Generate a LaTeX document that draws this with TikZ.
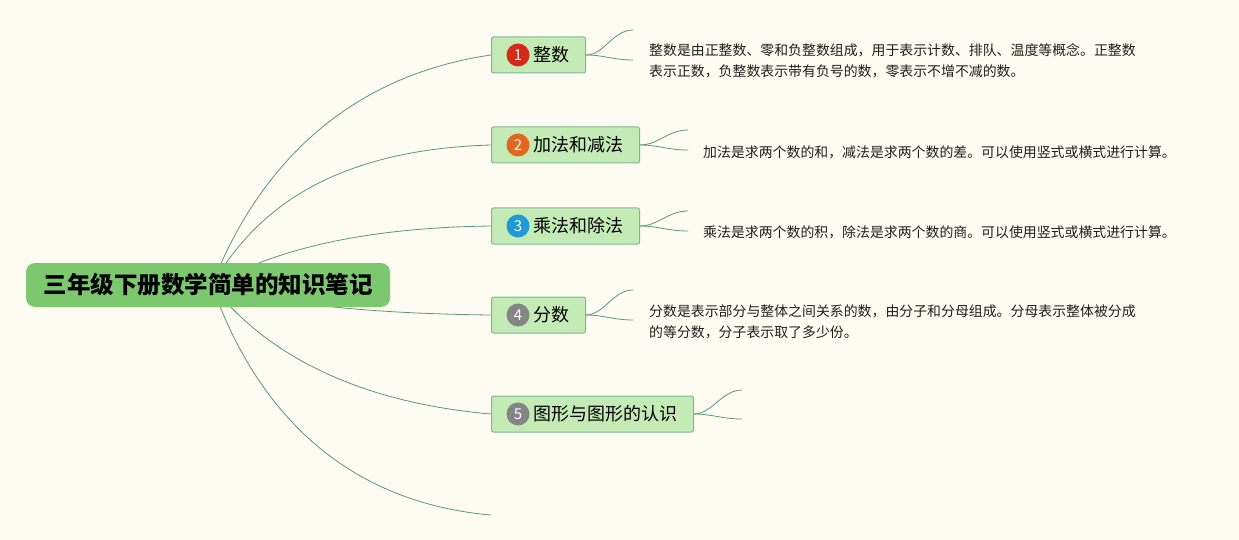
\documentclass[tikz,border=0pt]{standalone}
\usepackage{fontspec}
\setmainfont{Noto Sans CJK SC}
\definecolor{bgc}{HTML}{FEFCF2}
\definecolor{rootg}{HTML}{7CC86E}
\definecolor{topicf}{HTML}{C4EAB6}
\definecolor{topicb}{HTML}{7DB890}
\definecolor{linkc}{HTML}{5A967D}
\definecolor{numred}{HTML}{D62A18}
\definecolor{numorange}{HTML}{E2661E}
\definecolor{numblue}{HTML}{1E9AD8}
\definecolor{numgray}{HTML}{858585}
\definecolor{notec}{HTML}{1E1E1E}
\begin{document}
\begin{tikzpicture}[x=1pt,y=-1pt,
  rootbox/.style={fill=rootg, rounded corners=9pt, minimum width=364pt, minimum height=44pt, inner sep=0pt, font=\fontsize{23.5}{28}\selectfont\bfseries},
  topic/.style={draw=topicb, fill=topicf, line width=1pt, rounded corners=2pt, minimum height=36pt, inner xsep=16pt, inner ysep=0pt, anchor=west, font=\fontsize{18}{22}\selectfont},
  numc/.style={circle, minimum size=23pt, inner sep=0pt, text=white, font=\fontsize{15}{15}\selectfont},
  link/.style={draw=linkc, line width=0.8pt},
  sublink/.style={draw=linkc, line width=0.8pt},
  note/.style={anchor=base west, align=left, inner sep=0pt, text=notec, font=\fontsize{13.9}{21}\selectfont}
]
\useasboundingbox (0,0) rectangle (1239,540);
\fill[bgc] (0,0) rectangle (1239,540);

\coordinate (hub) at (212,285);
\coordinate (free) at (491,515);

% topic nodes
\node[topic] (n1) at (491,55) {\hspace{26pt}整数};
\node[topic] (n2) at (491,145) {\hspace{26pt}加法和减法};
\node[topic] (n3) at (491,226) {\hspace{26pt}乘法和除法};
\node[topic] (n4) at (491,315) {\hspace{26pt}分数};
\node[topic] (n5) at (491,414) {\hspace{26pt}图形与图形的认识};

\node[numc, fill=numred] (c1) at ([xshift=27pt]n1.west) {1};
\node[numc, fill=numorange] (c2) at ([xshift=27pt]n2.west) {2};
\node[numc, fill=numblue] (c3) at ([xshift=27pt]n3.west) {3};
\node[numc, fill=numgray] (c4) at ([xshift=27pt]n4.west) {4};
\node[numc, fill=numgray] (c5) at ([xshift=27pt]n5.west) {5};

% main connectors
\draw[link] (hub) .. controls (245,200) and (320,80) .. (n1.west);
\draw[link] (hub) .. controls (250,220) and (320,150) .. (n2.west);
\draw[link] (hub) .. controls (260,258) and (340,228) .. (n3.west);
\draw[link] (hub) .. controls (290,308) and (400,314) .. (n4.west);
\draw[link] (hub) .. controls (250,335) and (330,400) .. (n5.west);
\draw[link] (hub) .. controls (245,380) and (320,500) .. (free);

% root
\node[rootbox] (root) at (208,285) {三年级下册数学简单的知识笔记};

% sub branch ends
\coordinate (e1a) at (633,30);  \coordinate (e1b) at (633,60);
\coordinate (e2a) at (688,130); \coordinate (e2b) at (688,150);
\coordinate (e3a) at (688,211); \coordinate (e3b) at (688,231);
\coordinate (e4a) at (633,290); \coordinate (e4b) at (633,320);
\coordinate (e5a) at (742,390); \coordinate (e5b) at (742,419);

\foreach \n in {1,...,5}{
  \draw[sublink] (n\n.east) .. controls +(18,0) and +(-20,0) .. (e\n a);
  \draw[sublink] (n\n.east) .. controls +(18,0) and +(-20,0) .. (e\n b);
}

% notes
\node[note] (t1) at (649,76.5) {整数是由正整数、零和负整数组成，用于表示计数、排队、温度等概念。正整数\\表示正数，负整数表示带有负号的数，零表示不增不减的数。};
\node[note] (t2) at (703,158) {加法是求两个数的和，减法是求两个数的差。可以使用竖式或横式进行计算。};
\node[note] (t3) at (703,237) {乘法是求两个数的积，除法是求两个数的商。可以使用竖式或横式进行计算。};
\node[note] (t4) at (649,337.5) {分数是表示部分与整体之间关系的数，由分子和分母组成。分母表示整体被分成\\的等分数，分子表示取了多少份。};
\end{tikzpicture}
\end{document}
